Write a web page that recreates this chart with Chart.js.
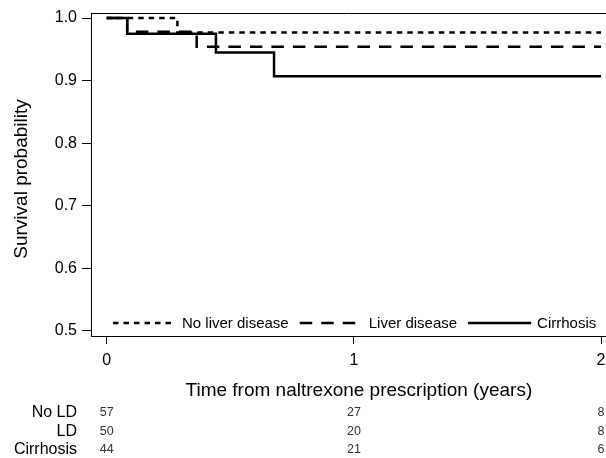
<!DOCTYPE html>
<html>
<head>
<meta charset="utf-8">
<title>Survival by liver disease</title>
<script src="https://cdn.jsdelivr.net/npm/chart.js@4.4.1/dist/chart.umd.min.js"></script>
<style>
  html, body { margin: 0; padding: 0; background: #fff; }
  canvas { display: block; }
</style>
</head>
<body>
<canvas id="chart-km" width="606" height="458"></canvas>
<script>
const FONT = "'Liberation Sans', Arial, Helvetica, sans-serif";

// Kaplan-Meier steps (time in years, survival after event)
const noLdTimes = [0, 0.286, 2];
const noLdSurv = [1, 0.977, 0.977];
const ldTimes = [0, 0.083, 0.364, 2];
const ldSurv = [1, 0.978, 0.954, 0.954];
const cirrTimes = [0, 0.083, 0.442, 0.677, 2];
const cirrSurv = [1, 0.975, 0.945, 0.907, 0.907];

const groupNames = ["No liver disease", "Liver disease", "Cirrhosis"];

const xTicks = [0, 1, 2];
const yTicks = [0.5, 0.6, 0.7, 0.8, 0.9, 1.0];

// numbers at risk
const riskLabels = ["No LD", "LD", "Cirrhosis"];
const riskTimes = [0, 1, 2];
const riskNoLd = [57, 27, 8];
const riskLd = [50, 20, 8];
const riskCirr = [44, 21, 6];

function toPoints(times, surv) {
  return times.map((t, i) => ({ x: t, y: surv[i] }));
}

const extras = {
  id: "extras",
  afterDraw(chart) {
    const { ctx, chartArea, scales } = chart;
    const xs = scales.x;
    ctx.save();

    // top frame line
    ctx.strokeStyle = "#000";
    ctx.lineWidth = 1;
    ctx.beginPath();
    ctx.moveTo(chartArea.left, Math.round(chartArea.top) + 0.5);
    ctx.lineTo(chartArea.right, Math.round(chartArea.top) + 0.5);
    ctx.stroke();

    // legend inside the plot, along the bottom
    ctx.font = `15px ${FONT}`;
    ctx.textBaseline = "middle";
    ctx.textAlign = "left";
    ctx.fillStyle = "#000";
    const ly = 323;
    let lx = chartArea.left + 22;
    chart.data.datasets.forEach((ds) => {
      ctx.strokeStyle = ds.borderColor;
      ctx.lineWidth = ds.borderWidth;
      ctx.setLineDash(ds.borderDash || []);
      ctx.beginPath();
      ctx.moveTo(lx, ly);
      ctx.lineTo(lx + 63, ly);
      ctx.stroke();
      ctx.setLineDash([]);
      ctx.fillText(ds.label, lx + 69, ly + 1);
      lx += 69 + ctx.measureText(ds.label).width + 11;
    });

    // axis titles
    ctx.font = `19px ${FONT}`;
    ctx.textAlign = "center";
    ctx.fillText("Time from naltrexone prescription (years)", xs.getPixelForValue(1) + 5, 391);
    ctx.save();
    ctx.translate(22, 179);
    ctx.rotate(-Math.PI / 2);
    ctx.fillText("Survival probability", 0, 0);
    ctx.restore();

    // numbers at risk table
    const rows = [riskNoLd, riskLd, riskCirr];
    const rowY = [413, 431.5, 450];
    rows.forEach((vals, r) => {
      ctx.font = `16px ${FONT}`;
      ctx.textAlign = "right";
      ctx.fillStyle = "#000";
      ctx.fillText(riskLabels[r], 77, rowY[r]);
      ctx.font = `12.5px ${FONT}`;
      ctx.textAlign = "center";
      ctx.fillStyle = "#333";
      vals.forEach((v, i) => {
        ctx.fillText(String(v), xs.getPixelForValue(riskTimes[i]), rowY[r]);
      });
    });
    ctx.restore();
  },
};

function initChart() {
  const line = { pointRadius: 0, borderWidth: 2.5, borderColor: "#000", stepped: true, fill: false };

  new Chart(document.getElementById("chart-km"), {
    type: "line",
    data: {
      datasets: [
        { ...line, label: groupNames[0], data: toPoints(noLdTimes, noLdSurv), borderDash: [5.5, 5], order: 2 },
        { ...line, label: groupNames[1], data: toPoints(ldTimes, ldSurv), borderDash: [12.5, 9], order: 1 },
        { ...line, label: groupNames[2], data: toPoints(cirrTimes, cirrSurv), order: 0 },
      ],
    },
    options: {
      responsive: false,
      animation: false,
      layout: { padding: { top: 13, right: 0, bottom: 0, left: 0 } },
      plugins: { legend: { display: false }, tooltip: { enabled: false } },
      scales: {
        x: {
          type: "linear",
          min: -0.0635,
          max: 2.02,
          afterBuildTicks: (s) => { s.ticks = xTicks.map((v) => ({ value: v })); },
          afterFit: (s) => { s.height = 122; s.paddingLeft = 0; s.paddingRight = 0; },
          ticks: { color: "#000", font: { family: FONT, size: 16 }, padding: 7, maxRotation: 0, callback: (v) => String(v) },
          grid: { drawOnChartArea: false, drawTicks: true, tickLength: 8, color: "#000" },
          border: { display: true, color: "#000", width: 1 },
        },
        y: {
          type: "linear",
          min: 0.492,
          max: 1.008,
          afterBuildTicks: (s) => { s.ticks = yTicks.map((v) => ({ value: v })); },
          afterFit: (s) => { s.width = 91; s.paddingTop = 0; s.paddingBottom = 0; },
          ticks: { color: "#000", font: { family: FONT, size: 16 }, padding: 5, callback: (v) => v.toFixed(1) },
          grid: { drawOnChartArea: false, drawTicks: true, tickLength: 9, color: "#000" },
          border: { display: true, color: "#000", width: 1 },
        },
      },
    },
    plugins: [extras],
  });
}

document.addEventListener("DOMContentLoaded", initChart);
</script>
</body>
</html>
